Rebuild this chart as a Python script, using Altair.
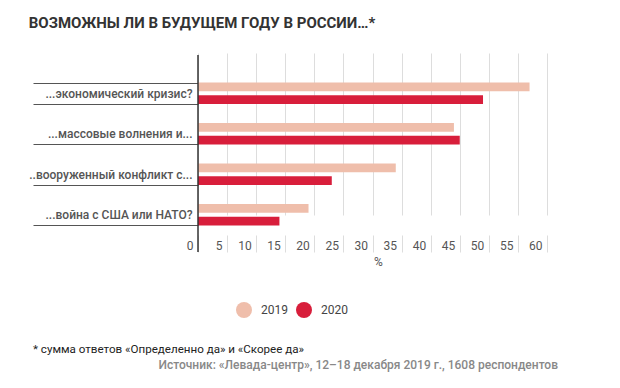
import altair as alt
import pandas as pd

title_text = "ВОЗМОЖНЫ ЛИ В БУДУЩЕМ ГОДУ В РОССИИ…*"
categories = [
    "...экономический кризис?",
    "...массовые волнения и...",
    "..вооруженный конфликт с...",
    "...война с США или НАТО?",
]
years = ["2019", "2020"]
v2019 = [57, 44, 34, 19]
v2020 = [49, 45, 23, 14]
colors = ["#EFBEAB", "#D81E3B"]
x_ticks = list(range(0, 65, 5))
footnote = "* сумма ответов «Определенно да» и «Скорее да»"
source = "Источник: «Левада-центр», 12–18 декабря 2019 г., 1608 респондентов"

rows = []
for c, a, b in zip(categories, v2019, v2020):
    rows.append({"q": c, "year": "2019", "v": a})
    rows.append({"q": c, "year": "2020", "v": b})
df = pd.DataFrame(rows)

W = 349
H = 182

x_scale = alt.Scale(domain=[0, 60], nice=False)
x_axis = alt.Axis(
    values=x_ticks, title="%", grid=True, gridColor="#dddddd",
    tickColor="#dddddd", tickSize=17, domain=False,
    labelAlign="right", labelOffset=-5, labelBaseline="middle",
    labelPadding=-7, labelColor="#555555", labelFontSize=12,
    labelOverlap=False,
    titleFontSize=12, titleFontWeight="normal", titleColor="#555555",
    titlePadding=4, titleX=180,
)

bars = alt.Chart(df).mark_bar().encode(
    x=alt.X("v:Q", scale=x_scale, axis=x_axis),
    y=alt.Y(
        "q:N", sort=categories,
        scale=alt.Scale(range=[20, H], paddingInner=0.47, paddingOuter=0.235),
        axis=alt.Axis(
            title=None, tickBand="extent", tickSize=165, tickColor="#555555",
            domain=False, labelPadding=-159, labelFontSize=12,
            labelColor="#555555", labelFontWeight=500,
        ),
    ),
    yOffset=alt.YOffset("year:N", sort=years,
                        scale=alt.Scale(paddingInner=0.3, paddingOuter=0)),
    color=alt.Color(
        "year:N", scale=alt.Scale(domain=years, range=colors),
        legend=alt.Legend(
            orient="none", legendX=38, legendY=249, direction="horizontal",
            title=None, symbolType="circle", symbolSize=256,
            symbolStrokeWidth=0, labelFontSize=12, labelColor="#444444",
            columnPadding=8, labelOffset=9, symbolOpacity=1,
        ),
    ),
)

zero_line = alt.Chart(pd.DataFrame({"v": [0]})).mark_rule(
    color="#333333", strokeWidth=1.5
).encode(x=alt.X("v:Q", scale=x_scale, axis=x_axis),
         y=alt.value(2), y2=alt.value(199))

foot = alt.Chart(pd.DataFrame({"t": [footnote]})).mark_text(
    align="left", baseline="middle", fontSize=11.6, color="#222222"
).encode(text="t:N", x=alt.value(-165), y=alt.value(297))

src = alt.Chart(pd.DataFrame({"t": [source]})).mark_text(
    align="right", baseline="middle", fontSize=12, color="#888888", fontWeight=500
).encode(text="t:N", x=alt.value(360), y=alt.value(312))

chart = alt.layer(bars, zero_line, foot, src).properties(
    width=W, height=H,
    title=alt.TitleParams(
        title_text, anchor="start", frame="bounds", fontSize=15,
        fontWeight="bold", color="#333333", offset=16,
    ),
    padding={"left": 20, "top": 8, "right": 5, "bottom": 5},
).configure(font="Roboto").configure_view(stroke=None)

chart.save("out.html", embed_options={"renderer": "svg", "actions": False})
